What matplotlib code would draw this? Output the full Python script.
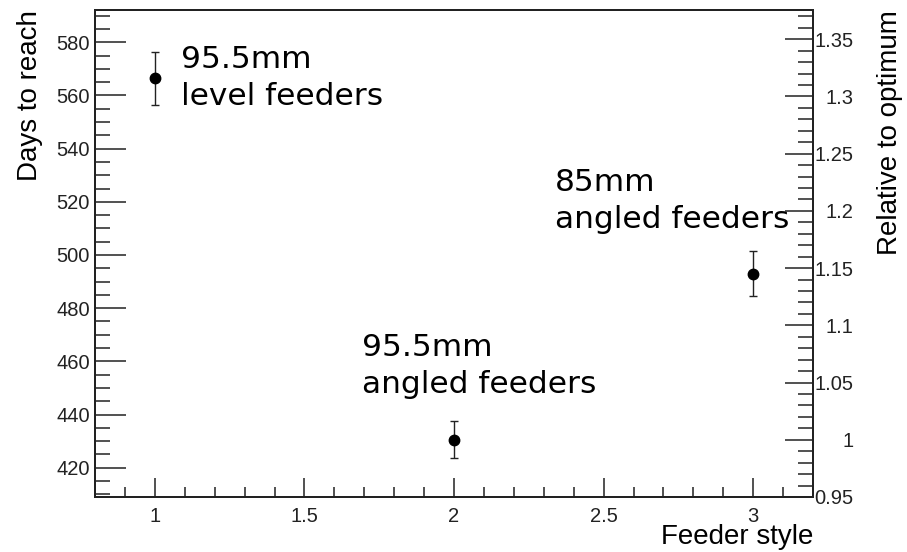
import matplotlib.pyplot as plt
from matplotlib.ticker import MultipleLocator, FormatStrFormatter

# feeder style vs days to reach target weight
styles = [1, 2, 3]
days = [566.5, 430.5, 493.0]
days_err = [10.0, 7.0, 8.5]
labels = ["95.5mm\nlevel feeders", "95.5mm\nangled feeders", "85mm\nangled feeders"]
label_x = [1.088, 1.693, 2.338]
label_y = [556.4, 448.1, 510.2]

optimum = min(days)
ratio_lim = (0.95, 1.3755)

tick_font = "Liberation Sans"
tick_size = 14.5

fig = plt.figure(figsize=(9.07, 5.52), dpi=100)
ax = fig.add_axes([95 / 907, 55 / 552, 718 / 907, 487 / 552])

ax.errorbar(styles, days, yerr=days_err, fmt="o", color="black", ms=7.5,
            ecolor="#222222", elinewidth=1.0, capsize=3, capthick=1.0)

# labels anchored on the baseline of their last line
for x, y, s in zip(label_x, label_y, labels):
    ax.text(x, y, s, fontsize=22.5, family="DejaVu Sans", ha="left",
            va="baseline", linespacing=1.35)

ax.set_xlim(0.8, 3.2)
ax.set_ylim(ratio_lim[0] * optimum, ratio_lim[1] * optimum)

ax.xaxis.set_major_locator(MultipleLocator(0.5))
ax.xaxis.set_minor_locator(MultipleLocator(0.1))
ax.xaxis.set_major_formatter(FormatStrFormatter("%g"))
ax.yaxis.set_major_locator(MultipleLocator(20))
ax.yaxis.set_minor_locator(MultipleLocator(5))

ax.tick_params(axis="both", which="both", direction="in", top=False, right=False,
               labelsize=tick_size, width=1.1, colors="#222222")
ax.tick_params(axis="x", which="major", length=14, pad=7)
ax.tick_params(axis="x", which="minor", length=7)
ax.tick_params(axis="y", which="major", length=22, pad=3.6)
ax.tick_params(axis="y", which="minor", length=11)
for lbl in ax.get_xticklabels() + ax.get_yticklabels():
    lbl.set_family(tick_font)

for sp in ax.spines.values():
    sp.set_linewidth(1.4)
    sp.set_color("#222222")

ax.set_xlabel("Feeder style", loc="right", fontsize=20, family=tick_font)
ax.xaxis.set_label_coords(1.0, -0.055)
ax.set_ylabel("Days to reach", loc="top", fontsize=20, family=tick_font)
ax.yaxis.set_label_coords(-0.0724, 1.0)

# secondary axis: days relative to the best feeder style
ax2 = ax.twinx()
ax2.set_ylim(*ratio_lim)
ax2.yaxis.set_major_locator(MultipleLocator(0.05))
ax2.yaxis.set_minor_locator(MultipleLocator(0.01))
ax2.yaxis.set_major_formatter(FormatStrFormatter("%g"))
ax2.tick_params(axis="y", which="both", direction="in", left=False, right=True,
                labelsize=tick_size, width=1.1, colors="#222222")
ax2.tick_params(axis="y", which="major", length=20, pad=29)
ax2.tick_params(axis="y", which="minor", length=11)
for lbl in ax2.get_yticklabels():
    lbl.set_family(tick_font)
    lbl.set_horizontalalignment("right")
for sp in ax2.spines.values():
    sp.set_linewidth(1.4)
    sp.set_color("#222222")

ax2.set_ylabel("Relative to optimum", loc="top", fontsize=20, family=tick_font)
ax2.yaxis.set_label_coords(1.089, 1.0)

fig.savefig("out.png", dpi=100)
